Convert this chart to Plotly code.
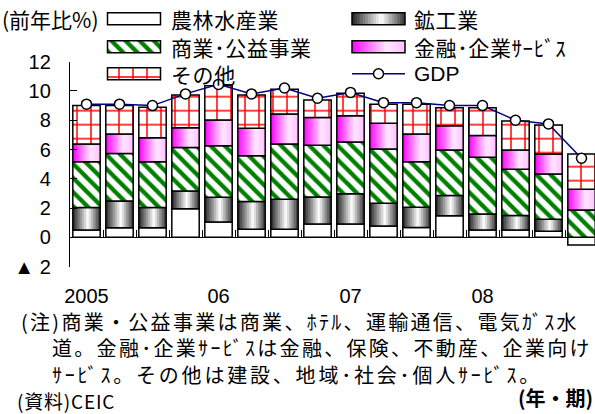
import numpy as np
import plotly.graph_objects as go

W, H = 595, 414

# ---- data -------------------------------------------------------------
quarters = [
    "2005Q1", "2005Q2", "2005Q3", "2005Q4",
    "2006Q1", "2006Q2", "2006Q3", "2006Q4",
    "2007Q1", "2007Q2", "2007Q3", "2007Q4",
    "2008Q1", "2008Q2", "2008Q3", "2008Q4",
]
year_labels = {"2005Q1": "2005", "2006Q1": "06", "2007Q1": "07", "2008Q1": "08"}

# contributions to real GDP growth (percentage points)
agri     = [0.50, 0.66, 0.66, 1.96, 1.05, 0.55, 0.55, 0.91, 0.91, 0.77, 0.68, 1.48, 0.50, 0.50, 0.42, -0.52]
mining   = [1.53, 1.82, 1.37, 1.21, 1.68, 1.89, 2.05, 1.85, 2.07, 1.55, 1.37, 1.37, 1.09, 1.00, 0.81, 0.00]
commerce = [3.14, 3.24, 3.14, 2.96, 3.53, 3.14, 3.78, 3.53, 3.53, 3.72, 3.12, 3.12, 3.88, 3.15, 3.10, 1.87]
finance  = [1.21, 1.34, 1.64, 1.36, 1.76, 1.87, 2.05, 1.89, 1.80, 1.75, 1.89, 1.66, 1.48, 1.32, 1.36, 1.41]
other    = [2.62, 1.94, 2.07, 2.24, 2.34, 2.28, 1.68, 1.20, 1.53, 1.30, 2.03, 1.23, 1.91, 1.98, 1.99, 2.41]
gdp      = [9.1, 9.1, 9.0, 9.8, 10.45, 9.8, 10.2, 9.5, 9.9, 9.2, 9.2, 9.0, 9.0, 8.0, 7.75, 5.4]

names = {
    "agri": "農林水産業",
    "mining": "鉱工業",
    "commerce": "商業･公益事業",
    "finance": "金融･企業ｻｰﾋﾞｽ",
    "other": "その他",
    "gdp": "GDP",
}

y_tickvals = [-2, 0, 2, 4, 6, 8, 10, 12]
y_ticktext = ["▲ 2", "0", "2", "4", "6", "8", "10", "12"]

y_unit = "(前年比%)"
x_unit = "(年・期)"
note_lines = [
    "(注)商業・公益事業は商業、ﾎﾃﾙ、運輸通信、電気ｶﾞｽ水",
    "道。金融･企業ｻｰﾋﾞｽは金融、保険、不動産、企業向け",
    "ｻｰﾋﾞｽ。その他は建設、地域･社会･個人ｻｰﾋﾞｽ。",
]
source = "(資料)CEIC"

# ---- styles -----------------------------------------------------------
JP = "Noto Sans CJK JP"
LATIN = "Liberation Sans, Arial, Noto Sans CJK JP"
BAR_W = 0.83
OUTLINE = dict(color="black", width=1.5)
MINING_STOPS = [(0.0, (35, 35, 35)), (0.55, (255, 255, 255)), (1.0, (50, 50, 50))]
FINANCE_STOPS = [(0.0, (255, 0, 255)), (0.65, (255, 232, 255)), (1.0, (255, 190, 255))]
STRIPE = dict(shape="\\", fgcolor="#008000", bgcolor="white", size=10, solidity=0.42, fillmode="replace")
GRID = dict(shape="+", fgcolor="#ff0000", bgcolor="white", size=14, solidity=0.2, fillmode="replace")
GDP_LINE = dict(color="#000080", width=1.5)
GDP_MARK = dict(size=10, color="white", line=dict(color="black", width=1.5))

# plot-area geometry (pixels)
X_LEFT = 70.0
Y_TOP_PX, Y_BOT_PX = 61.7, 266.6          # pixel rows of 12 and -2
Y_MIN, Y_MAX = -2, 12
X_RANGE = [-0.5, -0.5 + (W - X_LEFT) / 33.0]


def shade(stops, t):
    for (t0, c0), (t1, c1) in zip(stops[:-1], stops[1:]):
        if t <= t1:
            f = (t - t0) / (t1 - t0)
            c = [round(a + (b - a) * f) for a, b in zip(c0, c1)]
            return "rgb(%d,%d,%d)" % tuple(c)
    return "rgb(%d,%d,%d)" % stops[-1][1]


# stacked bases (positives stack upward, negatives downward)
segments = [agri, mining, commerce, finance, other]
pos = np.zeros(len(quarters))
neg = np.zeros(len(quarters))
bases = []
for seg in segments:
    v = np.asarray(seg, dtype=float)
    bases.append(np.where(v >= 0, pos, neg))
    pos = pos + np.clip(v, 0, None)
    neg = neg + np.clip(v, None, 0)
b_agri, b_mining, b_commerce, b_finance, b_other = bases

fig = go.Figure()


def plain_bar(vals, base, marker):
    fig.add_trace(go.Bar(x=quarters, y=vals, base=base, width=BAR_W, offset=-BAR_W / 2,
                         marker=marker, showlegend=False, hoverinfo="skip"))


def gradient_bar(vals, base, stops, n=12):
    step = BAR_W / n
    for i in range(n):
        w = step * 1.6 if i < n - 1 else step
        fig.add_trace(go.Bar(x=quarters, y=vals, base=base, width=w,
                             offset=-BAR_W / 2 + i * step,
                             marker=dict(color=shade(stops, (i + 0.5) / n), line=dict(width=0)),
                             showlegend=False, hoverinfo="skip"))
    plain_bar(vals, base, dict(color="rgba(0,0,0,0)", line=OUTLINE))


plain_bar(agri, b_agri, dict(color="white", line=OUTLINE))
gradient_bar(mining, b_mining, MINING_STOPS)
plain_bar(commerce, b_commerce, dict(color="white", pattern=STRIPE, line=OUTLINE))
gradient_bar(finance, b_finance, FINANCE_STOPS)
plain_bar(other, b_other, dict(color="white", pattern=GRID, line=OUTLINE))

fig.add_trace(go.Scatter(x=quarters, y=gdp, mode="lines+markers", line=GDP_LINE,
                         marker=GDP_MARK, showlegend=False, hoverinfo="skip"))

# ---- hand-laid legend on a pixel overlay ------------------------------
SW_W, SW_H = 53, 12
COL_SW = [107.5, 352.0]
COL_TXT = [170.0, 413.0]
ROWS = [18.7, 46.7, 73.7]
layout_items = [("agri", 0, 0), ("mining", 1, 0), ("commerce", 0, 1),
                ("finance", 1, 1), ("other", 0, 2), ("gdp", 1, 2)]


def swatch(x0, yc, width, marker):
    fig.add_trace(go.Bar(x=[width], y=[yc], base=[x0], width=[SW_H], orientation="h",
                         xaxis="x2", yaxis="y2", marker=marker,
                         showlegend=False, hoverinfo="skip"))


annotations = []
for key, col, row in layout_items:
    x0, yc = COL_SW[col], ROWS[row]
    if key == "agri":
        swatch(x0, yc, SW_W, dict(color="white", line=OUTLINE))
    elif key in ("mining", "finance"):
        stops = MINING_STOPS if key == "mining" else FINANCE_STOPS
        n = 20
        step = SW_W / n
        for i in range(n):
            swatch(x0 + i * step, yc, step * 1.6 if i < n - 1 else step,
                   dict(color=shade(stops, (i + 0.5) / n), line=dict(width=0)))
        swatch(x0, yc, SW_W, dict(color="rgba(0,0,0,0)", line=OUTLINE))
    elif key == "commerce":
        swatch(x0, yc, SW_W, dict(color="white", pattern=STRIPE, line=OUTLINE))
    elif key == "other":
        swatch(x0, yc, SW_W, dict(color="white", pattern=GRID, line=OUTLINE))
    else:
        fig.add_trace(go.Scatter(x=[x0, x0 + SW_W], y=[yc, yc], mode="lines", line=GDP_LINE,
                                 xaxis="x2", yaxis="y2", showlegend=False, hoverinfo="skip"))
        fig.add_trace(go.Scatter(x=[x0 + SW_W / 2], y=[yc], mode="markers", marker=GDP_MARK,
                                 xaxis="x2", yaxis="y2", showlegend=False, hoverinfo="skip"))
    fam = LATIN if key == "gdp" else JP
    size = 21
    spacing = 0 if key == "gdp" else 0.6
    text = names[key]
    if spacing:
        text = '<span style="letter-spacing:%.1fpx">%s</span>' % (spacing, text)
    annotations.append(dict(text=text, x=COL_TXT[col], y=yc, xref="x2", yref="y2",
                            xanchor="left", yanchor="middle", showarrow=False,
                            borderpad=0,
                            font=dict(family=fam, size=size, color="black")))


def px_note(text, x, y, size=20, spacing=0.0, anchor="left", bold=False, family=JP):
    if spacing:
        text = '<span style="letter-spacing:%.2fpx">%s</span>' % (spacing, text)
    annotations.append(dict(text=text, x=x, y=y, xref="x2", yref="y2", xanchor=anchor,
                            yanchor="middle", showarrow=False, borderpad=0,
                            font=dict(family=family, size=size, color="black",
                                      weight="bold" if bold else "normal")))


px_note(y_unit, 1, 18.5, size=21)
px_note(note_lines[0], 20, 321, spacing=2.3)
px_note(note_lines[1], 51, 347.5, spacing=2.3)
px_note(note_lines[2], 51, 374, spacing=2.8)
px_note(source, 16, 400, size=19, spacing=0.8)
px_note(x_unit, 594, 397, size=20, anchor="right", bold=True)

# ---- axes -------------------------------------------------------------
y_dom = [1 - Y_BOT_PX / H, 1 - Y_TOP_PX / H]
zero_px = Y_BOT_PX - (0 - Y_MIN) * (Y_BOT_PX - Y_TOP_PX) / (Y_MAX - Y_MIN)

fig.update_layout(
    template="none",
    width=W, height=H,
    margin=dict(l=0, r=0, t=0, b=0, pad=0),
    paper_bgcolor="white",
    plot_bgcolor="rgba(0,0,0,0)",
    barmode="overlay",
    showlegend=False,
    annotations=annotations,
    xaxis=dict(
        type="category", categoryorder="array", categoryarray=quarters,
        domain=[X_LEFT / W, 1.0], range=X_RANGE,
        anchor="free", position=1 - zero_px / H,
        showline=True, linecolor="black", linewidth=1.3,
        ticks="inside", tickson="boundaries", ticklen=7, tickwidth=1, tickcolor="black",
        tickvals=quarters, ticktext=[year_labels.get(q, "") for q in quarters],
        tickangle=0, ticklabelstandoff=41,
        tickfont=dict(family=LATIN, size=20, color="black"),
        showgrid=False, zeroline=False, automargin=False, fixedrange=True,
    ),
    yaxis=dict(
        domain=y_dom, range=[Y_MIN, Y_MAX], anchor="x",
        showline=True, linecolor="black", linewidth=1.3,
        ticks="inside", ticklen=7, tickwidth=1.3, tickcolor="black",
        tickvals=y_tickvals, ticktext=y_ticktext, ticklabelstandoff=14,
        tickfont=dict(family=LATIN, size=20, color="black"),
        showgrid=False, zeroline=False, automargin=False, fixedrange=True,
    ),
    xaxis2=dict(domain=[0, 1], range=[0, W], anchor="y2", visible=False, fixedrange=True),
    yaxis2=dict(domain=[0, 1], range=[H, 0], anchor="x2", visible=False, fixedrange=True),
)

fig.write_html("out.html", config={"displayModeBar": False})
